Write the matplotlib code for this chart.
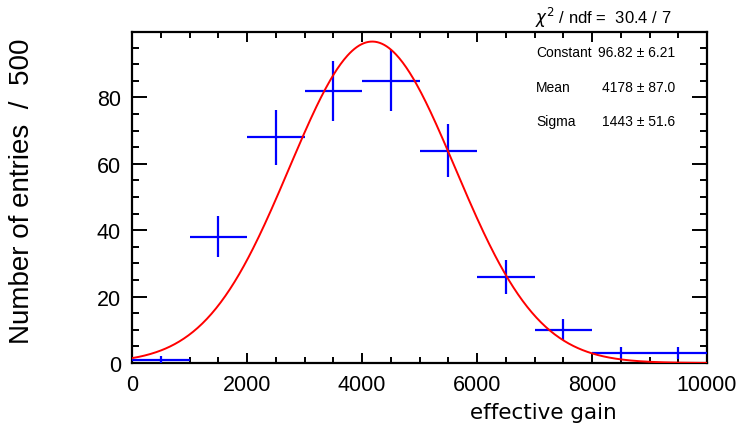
import numpy as np
import matplotlib
matplotlib.use("Agg")
import matplotlib.pyplot as plt
from matplotlib.ticker import MultipleLocator

# histogram contents (bin width 1000)
bin_lo = [0, 1000, 2000, 3000, 4000, 5000, 6000, 7000, 8000, 9000]
counts = [1, 38, 68, 82, 85, 64, 26, 10, 3, 3]

# gaus fit parameters
fit_const = 96.82
fit_mean = 4178
fit_sigma = 1443

bin_w = 1000
x_c = np.array(bin_lo) + bin_w / 2
y = np.array(counts, dtype=float)
yerr = np.sqrt(y)

plt.rcParams['font.family'] = ['Liberation Sans', 'DejaVu Sans']

fig = plt.figure(figsize=(7.45, 4.27), dpi=100)
ax = fig.add_axes([132/745, 63/427, 575/745, 331/427])

ax.errorbar(x_c, y, xerr=bin_w / 2, yerr=yerr, fmt='none', ecolor='#0000ff',
            elinewidth=1.6, capsize=0, zorder=3)

xf = np.linspace(0, 10000, 500)
ax.plot(xf, fit_const * np.exp(-0.5 * ((xf - fit_mean) / fit_sigma) ** 2),
        color='#ff0000', lw=1.4, zorder=4)

ax.set_xlim(0, 10000)
ax.set_ylim(0, 99.7)
ax.xaxis.set_major_locator(MultipleLocator(2000))
ax.xaxis.set_minor_locator(MultipleLocator(500))
ax.yaxis.set_major_locator(MultipleLocator(20))
ax.yaxis.set_minor_locator(MultipleLocator(5))
ax.tick_params(which='both', direction='in', top=True, right=True, width=1.4,
               labelsize=15.5)
ax.tick_params(axis='x', which='major', length=7.5, pad=8)
ax.tick_params(axis='x', which='minor', length=4.3)
ax.tick_params(axis='y', which='major', length=11, pad=8)
ax.tick_params(axis='y', which='minor', length=5.3)
for s in ax.spines.values():
    s.set_linewidth(1.6)

fig.text(617/745, 1 - 413/427, 'effective gain', ha='right', va='center',
         fontsize=15.5, family='DejaVu Sans')
fig.text(22/745, 1 - 38/427, 'Number of entries  /  500', rotation=90,
         ha='center', va='top', fontsize=20)

# stats box
fig.text(535/745, 1 - 18/427, r'$\chi^2$ / ndf =  30.4 / 7', ha='left', va='center',
         fontsize=12)
rows = [('Constant', '96.82 \u00b1 6.21', 53),
        ('Mean', '4178 \u00b1 87.0', 88),
        ('Sigma', '1443 \u00b1 51.6', 122)]
for name, val, yp in rows:
    fig.text(536/745, 1 - yp/427, name, ha='left', va='center', fontsize=10)
    fig.text(675/745, 1 - yp/427, val, ha='right', va='center', fontsize=10)

plt.savefig('out.png', dpi=100)
